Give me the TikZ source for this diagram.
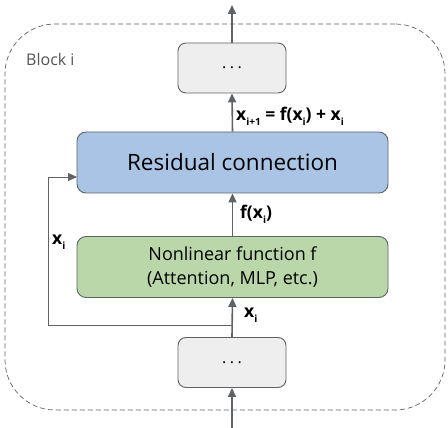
\documentclass[tikz,border=0pt]{standalone}
\usepackage{fontspec}
\setmainfont{Open Sans}
\usetikzlibrary{arrows.meta,positioning}
\definecolor{linegray}{HTML}{5F6368}
\definecolor{boxgray}{HTML}{EEEEEE}
\definecolor{bluefill}{HTML}{A9C4E4}
\definecolor{greenfill}{HTML}{B9D7A8}
\definecolor{textgray}{HTML}{555555}
\tikzset{
  dotsbox/.style={draw=linegray, fill=boxgray, rounded corners=8pt, line width=0.9pt, minimum width=108pt, minimum height=50pt, inner sep=0pt, font=\fontsize{16}{16}\selectfont},
  mainbox/.style={draw=linegray, rounded corners=9pt, line width=0.9pt, minimum width=311pt, minimum height=61pt, inner sep=0pt, align=center},
  flow/.style={draw=linegray, line width=1.6pt, -{Triangle[length=9pt,width=8pt]}},
  skip/.style={draw=linegray, line width=0.9pt, -{Triangle[length=9pt,width=8pt]}},
  lab/.style={font=\bfseries\fontsize{17.5}{17.5}\selectfont, inner sep=0pt, anchor=west},
}
\newcommand{\sub}[1]{\raisebox{-5pt}{\fontsize{10}{10}\selectfont #1}}
\newcommand{\mydots}{.\hspace{3.5pt}.\hspace{3.5pt}.}
\begin{document}
\begin{tikzpicture}[x=1pt,y=-1pt]
\useasboundingbox (0,0) rectangle (448,428);
% outer block
\node (block) [draw=linegray, dashed, dash pattern=on 5pt off 3pt, line width=0.7pt, rounded corners=50pt, minimum width=440pt, minimum height=386pt, inner sep=0pt] at (225,217) {};
\node (blocklab) [anchor=west, text=textgray, font=\fontsize{16}{16}\selectfont, inner sep=0pt] at (26,60) {Block i};
% boxes
\node (top) [dotsbox] at (232,68) {\mydots};
\node (res) [mainbox, fill=bluefill, font=\fontsize{22.5}{22.5}\selectfont] at (232.5,162.5) {Residual connection};
\node (nl) [mainbox, fill=greenfill, font=\fontsize{18}{24}\selectfont] at (232.5,267) {Nonlinear function f\\(Attention, MLP, etc.)};
\node (bot) [dotsbox] at (232,362.5) {\mydots};
% coordinates
\coordinate (outtop) at (232,5);
\coordinate (inbot) at (232,428);
\coordinate (split) at (232,325);
\coordinate (corner1) at (48,325);
\coordinate (corner2) at (48,177);
\coordinate (resin) at (77,177);
% arrows
\draw[flow] (top.north) -- (outtop);
\draw[flow] (res.north) -- (top.south);
\draw[flow] (nl.north) -- (res.south);
\draw[flow] (bot.north) -- (nl.south);
\draw[flow] (inbot) -- (bot.south);
\draw[skip] (split) -- (corner1) -- (corner2) -- (resin);
% labels
\node (l1) [lab] at (236,116) {x\sub{i+1} = f(x\sub{i}) + x\sub{i}};
\node (l2) [lab] at (240,214) {f(x\sub{i})};
\node (l3) [lab] at (52,242) {x\sub{i}};
\node (l4) [lab] at (244,315) {x\sub{i}};
\end{tikzpicture}
\end{document}
